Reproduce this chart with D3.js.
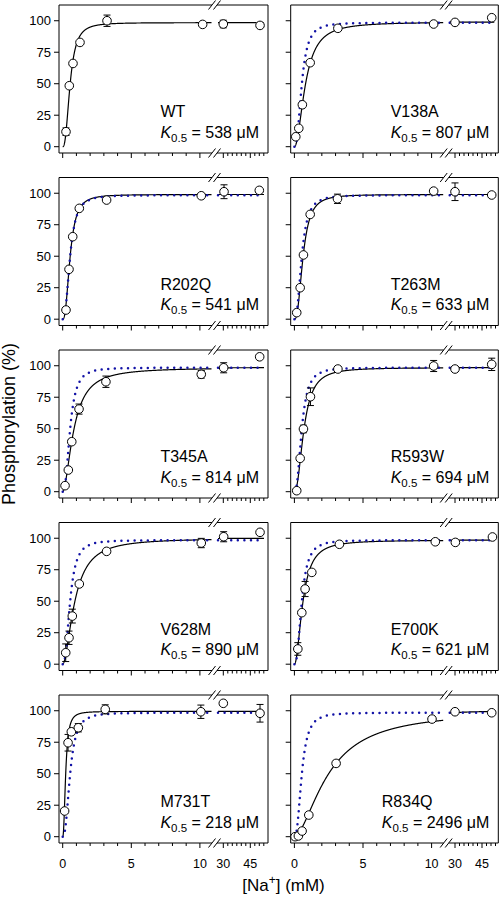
<!DOCTYPE html>
<html><head><meta charset="utf-8">
<script src="https://cdn.jsdelivr.net/npm/d3@7"></script>
<style>body{margin:0;background:#fff} svg text{font-family:"Liberation Sans",Arial,sans-serif;fill:#000}</style>
</head><body><svg id="c" width="500" height="898"></svg>
<script>
// ---- data ----
const mutants = ["WT","V138A","R202Q","T263M","T345A","R593W","V628M","E700K","M731T","R834Q"];
const k05uM   = [538, 807, 541, 633, 814, 694, 890, 621, 218, 2496];
const hillN   = [2.5, 2.0, 2.5, 2.5, 1.8, 2.2, 1.8, 2.0, 2.3, 1.7];
const vmax    = [98.5, 99, 99, 99, 98.5, 98.5, 100, 98.5, 99.5, 100];
const naX = [
  [0.24,0.48,0.75,1.26,3.23,10.2,30,50.4],
  [0.1,0.32,0.58,1.15,3.17,10.15,30,50.4],
  [0.24,0.46,0.73,1.21,3.2,10.1,30.4,50],
  [0.17,0.42,0.66,1.15,3.14,10.15,30,50.4],
  [0.17,0.41,0.66,1.19,3.15,10.1,30.2,50.2],
  [0.17,0.42,0.66,1.17,3.17,10.15,30,50.4],
  [0.22,0.46,0.7,1.21,3.2,10.1,30.2,50.4],
  [0.25,0.54,0.78,1.27,3.28,10.27,30.2,50.8],
  [0.14,0.39,0.63,1.14,3.1,10.07,30,50.4],
  [0.05,0.29,0.56,1.05,3.04,10.03,30,50.4]
];
const phos = [
  [11.9,48.4,66.1,82.8,100,97.1,97.4,96.3],
  [7.9,14.6,33.3,66.7,94,97.4,98.7,102.4],
  [7.3,39.6,65.5,88,94.6,98,101.2,102.3],
  [5.2,25,51,83.2,95.6,101.7,101.2,98.6],
  [4.8,17.2,39.7,65.6,87.3,93.2,98.4,107.1],
  [0.8,26.5,49.8,75.4,97.4,99.8,97.4,101.1],
  [9.1,21,38.2,63.7,89.6,96.2,101.2,104.7],
  [12.1,40.9,59.7,72.9,95.2,97.2,96.7,101],
  [20.4,74.6,83.3,86.5,101.1,99.2,105.9,98],
  [0,0.6,4.5,17.2,58.2,93.4,99.2,98.4]
];
const phosErr = [
  [3,0,0,0,4.5,0,3,0],
  [0,0,0,0,0,0,0,0],
  [0,0,0,0,0,0,5.5,0],
  [0,0,0,0,3.7,0,7,0],
  [0,0,0,4,4.5,3,4,0],
  [0,0,3,7,0,4.4,0,4.9],
  [7,5.3,5.5,0,0,3.7,4,0],
  [5,0,6,0,0,0,0,0],
  [0,6.6,0,3.3,3.6,5.3,0,7],
  [0,0,0,0,2,0,0,0]
];
const yTicks = [0,25,50,75,100];
const xTicksLeft = [0,5,10];
const xTicksRight = [30,45];
const xMinorLeft = [1,2,3,4,6,7,8,9];
const xMinorRight = [32.5,35,37.5,40,42.5,47.5,50,52.5];

// ---- layout ----
const svg = d3.select("#c");
const colX = [59, 290.7], colW = [209, 207.6];
const rowY0 = 5, rowStep = 172.5, boxH = 148;
const breakAt = 155.5, gapL = breakAt - 2.5, gapR = breakAt + 2.5;
const blue = "#1212a6";
const y = d3.scaleLinear().domain([-5, 112.5]).range([boxH, 0]);
const xL = d3.scaleLinear().domain([0, 10]).range([3.7, 140.9]);
const xR = d3.scaleLinear().domain([30, 50]).range([164.3, 200.3]);
const xpos = v => v <= 20 ? xL(v) : xR(v);
const hill = (v, K, n, Vm) => Vm * Math.pow(v, n) / (Math.pow(K, n) + Math.pow(v, n));

mutants.forEach((name, i) => {
  const c = i % 2, r = Math.floor(i / 2);
  const W = colW[c];
  const g = svg.append("g").attr("transform", `translate(${colX[c]},${rowY0 + r * rowStep})`);
  const line = (x1,y1,x2,y2,w) => g.append("line").attr("x1",x1).attr("y1",y1).attr("x2",x2).attr("y2",y2)
      .attr("stroke","#000").attr("stroke-width",w||1);
  // frame
  line(0,0,0,boxH); line(W,0,W,boxH);
  line(0,0,gapL,0); line(gapR,0,W,0);
  line(0,boxH,gapL,boxH); line(gapR,boxH,W,boxH);
  [0, boxH].forEach(yb => [gapL, gapR].forEach(xc => line(xc-3.5, yb+4.5, xc+3.5, yb-4.5)));
  // y ticks
  yTicks.forEach(t => {
    line(-5, y(t), 0, y(t));
    if (c === 0) g.append("text").attr("x", -8).attr("y", y(t)).attr("dy", "0.36em")
      .attr("text-anchor", "end").attr("font-size", 13).text(t);
  });
  // x ticks
  xTicksLeft.forEach(t => line(xL(t), boxH, xL(t), boxH + 5));
  xMinorLeft.forEach(t => line(xL(t), boxH, xL(t), boxH + 3));
  xTicksRight.forEach(t => line(xR(t), boxH, xR(t), boxH + 5));
  xMinorRight.filter(t => xR(t) < W - 1).forEach(t => line(xR(t), boxH, xR(t), boxH + 3));
  if (r === 4) {
    xTicksLeft.concat(xTicksRight).forEach(t => g.append("text").attr("x", xpos(t)).attr("y", boxH + 25)
      .attr("text-anchor", "middle").attr("font-size", 12.5).text(t));
  }
  // curves
  const leftMax = xL.invert(gapL - 0.5), rightMin = xR.invert(gapR + 1), rightMax = xR.invert(W - 4);
  const leftPts = d3.range(0, leftMax, 0.01).concat([leftMax]);
  const rightPts = d3.range(rightMin, rightMax, 0.5).concat([rightMax]);
  const mk = (xs, sc, K, n, Vm) => d3.line().x(d => sc(d)).y(d => y(hill(d, K, n, Vm)))(xs);
  const K = k05uM[i] / 1000;
  [[leftPts, xL], [rightPts, xR]].forEach(([xs, sc]) => {
    g.append("path").attr("d", mk(xs, sc, K, hillN[i], vmax[i])).attr("fill", "none")
      .attr("stroke", "#000").attr("stroke-width", 1.2);
  });
  if (i > 0) {
    const Kw = k05uM[0] / 1000;
    [[leftPts, xL], [rightPts, xR]].forEach(([xs, sc]) => {
      g.append("path").attr("d", mk(xs, sc, Kw, hillN[0], vmax[0])).attr("fill", "none")
        .attr("stroke", blue).attr("stroke-width", 2.5).attr("stroke-linecap", "round")
        .attr("stroke-dasharray", "0 6.6");
    });
  }
  // error bars + points
  naX[i].forEach((xv, j) => {
    const e = phosErr[i][j], px = xpos(xv);
    if (e > 0) {
      const y1 = y(phos[i][j] + e), y2 = y(phos[i][j] - e);
      line(px, y1, px, y2); line(px - 3.5, y1, px + 3.5, y1); line(px - 3.5, y2, px + 3.5, y2);
    }
  });
  naX[i].forEach((xv, j) => {
    g.append("circle").attr("cx", xpos(xv)).attr("cy", y(phos[i][j])).attr("r", 4.3)
      .attr("fill", "#fff").attr("stroke", "#000").attr("stroke-width", 1);
  });
  // labels
  const kt = g.append("text").attr("y", 132.5).attr("font-size", 16);
  kt.append("tspan").attr("font-style", "italic").text("K");
  kt.append("tspan").attr("font-size", 11.5).attr("dy", 4).text("0.5");
  kt.append("tspan").attr("dy", -4).text(" = " + k05uM[i] + " \u03bcM");
  const wdt = kt.node().getComputedTextLength();
  const tx = W - 9 - wdt;
  kt.attr("x", tx);
  g.append("text").attr("x", tx).attr("y", 112).attr("font-size", 16).text(name);
});

// axis titles
svg.append("text").attr("transform", "translate(15,424) rotate(-90)").attr("text-anchor", "middle")
  .attr("font-size", 18).text("Phosphorylation (%)");
const xt = svg.append("text").attr("x", 283.5).attr("y", 891).attr("text-anchor", "middle").attr("font-size", 17);
xt.append("tspan").text("[Na");
xt.append("tspan").attr("font-size", 12).attr("dy", -7).text("+");
xt.append("tspan").attr("dy", 7).text("] (mM)");
</script></body></html>
